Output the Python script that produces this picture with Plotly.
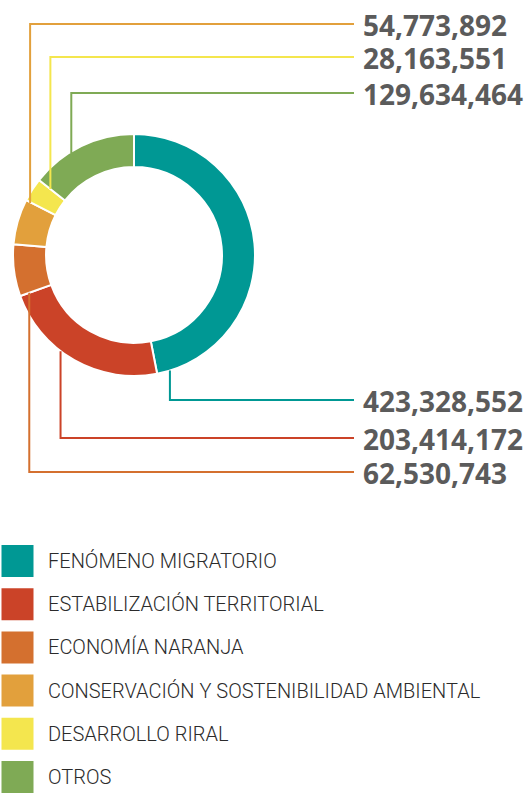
import math
import plotly.graph_objects as go

# ---- data ----
categories = ["FENÓMENO MIGRATORIO", "ESTABILIZACIÓN TERRITORIAL", "ECONOMÍA NARANJA",
              "CONSERVACIÓN Y SOSTENIBILIDAD AMBIENTAL", "DESARROLLO RIRAL", "OTROS"]
values = [423328552, 203414172, 62530743, 54773892, 28163551, 129634464]
colors = ["#009894", "#CB4328", "#D4702F", "#E2A03C", "#F4E64E", "#7FAA55"]

# ---- layout constants (pixels) ----
W, H = 531, 793
CX, CY, R = 134, 255, 121          # donut centre / outer radius
HOLE = 0.727
# leader anchors: (fraction along slice, radius fraction), vertical line goes to label row
anchor = [(0.963, 1.0), (0.596, 1.0), (0.0, 0.92), (0.98, 0.96), (1.0, 0.88), (0.39, 0.99)]
label_y = [400, 438, 472, 24, 57, 93]
line_end_x = 354
label_x = 361

def px(x):
    return x / W

def py(y):
    return 1 - y / H

fig = go.Figure()
fig.add_trace(go.Pie(
    labels=categories, values=values, hole=HOLE, sort=False, direction="clockwise",
    rotation=0, textinfo="none", showlegend=False,
    marker=dict(colors=colors, line=dict(color="white", width=2)),
    domain=dict(x=[px(CX - R), px(CX + R)], y=[py(CY + R), py(CY - R)]),
))

total = sum(values)
cum = 0.0
shapes = []
annotations = []
for i, v in enumerate(values):
    f0 = cum / total
    f1 = (cum + v) / total
    cum += v
    fa, fr = anchor[i]
    theta = 2 * math.pi * (f0 + fa * (f1 - f0))
    r = R * fr
    ax = CX + r * math.sin(theta)
    ay = CY - r * math.cos(theta)
    ly = label_y[i]
    shapes.append(dict(type="path", xref="paper", yref="paper",
                       path=f"M {px(ax)} {py(ay)} L {px(ax)} {py(ly)} L {px(line_end_x)} {py(ly)}",
                       line=dict(color=colors[i], width=2)))
    annotations.append(dict(xref="paper", yref="paper", x=px(label_x), y=py(ly + 1),
                            xanchor="left", yanchor="middle", showarrow=False,
                            text=f"{v:,}",
                            font=dict(family="Open Sans", size=28, color="#5b5b5b", weight=700)))

# ---- custom legend (scatter squares on a pixel-scaled axis) ----
row0, step = 561, 43.2
idx = list(range(len(categories)))
fig.add_trace(go.Scatter(
    x=[17.5] * len(categories), y=idx, mode="markers", showlegend=False, hoverinfo="skip",
    marker=dict(symbol="square", size=32, color=colors, line=dict(width=0)),
))
for i, c in enumerate(categories):
    annotations.append(dict(xref="x", yref="y", x=46, y=i, xanchor="left", yanchor="middle",
                            showarrow=False, text=c,
                            font=dict(family="Roboto", size=20, color="#2b2b2b", weight=300)))

fig.update_layout(
    width=W, height=H, autosize=False, margin=dict(l=0, r=0, t=0, b=0),
    paper_bgcolor="white", plot_bgcolor="rgba(0,0,0,0)",
    shapes=shapes, annotations=annotations,
    xaxis=dict(range=[0, W], visible=False, fixedrange=True),
    yaxis=dict(range=[(H - row0) / step, -row0 / step], visible=False, fixedrange=True),
)

fig.write_html("out.html")
